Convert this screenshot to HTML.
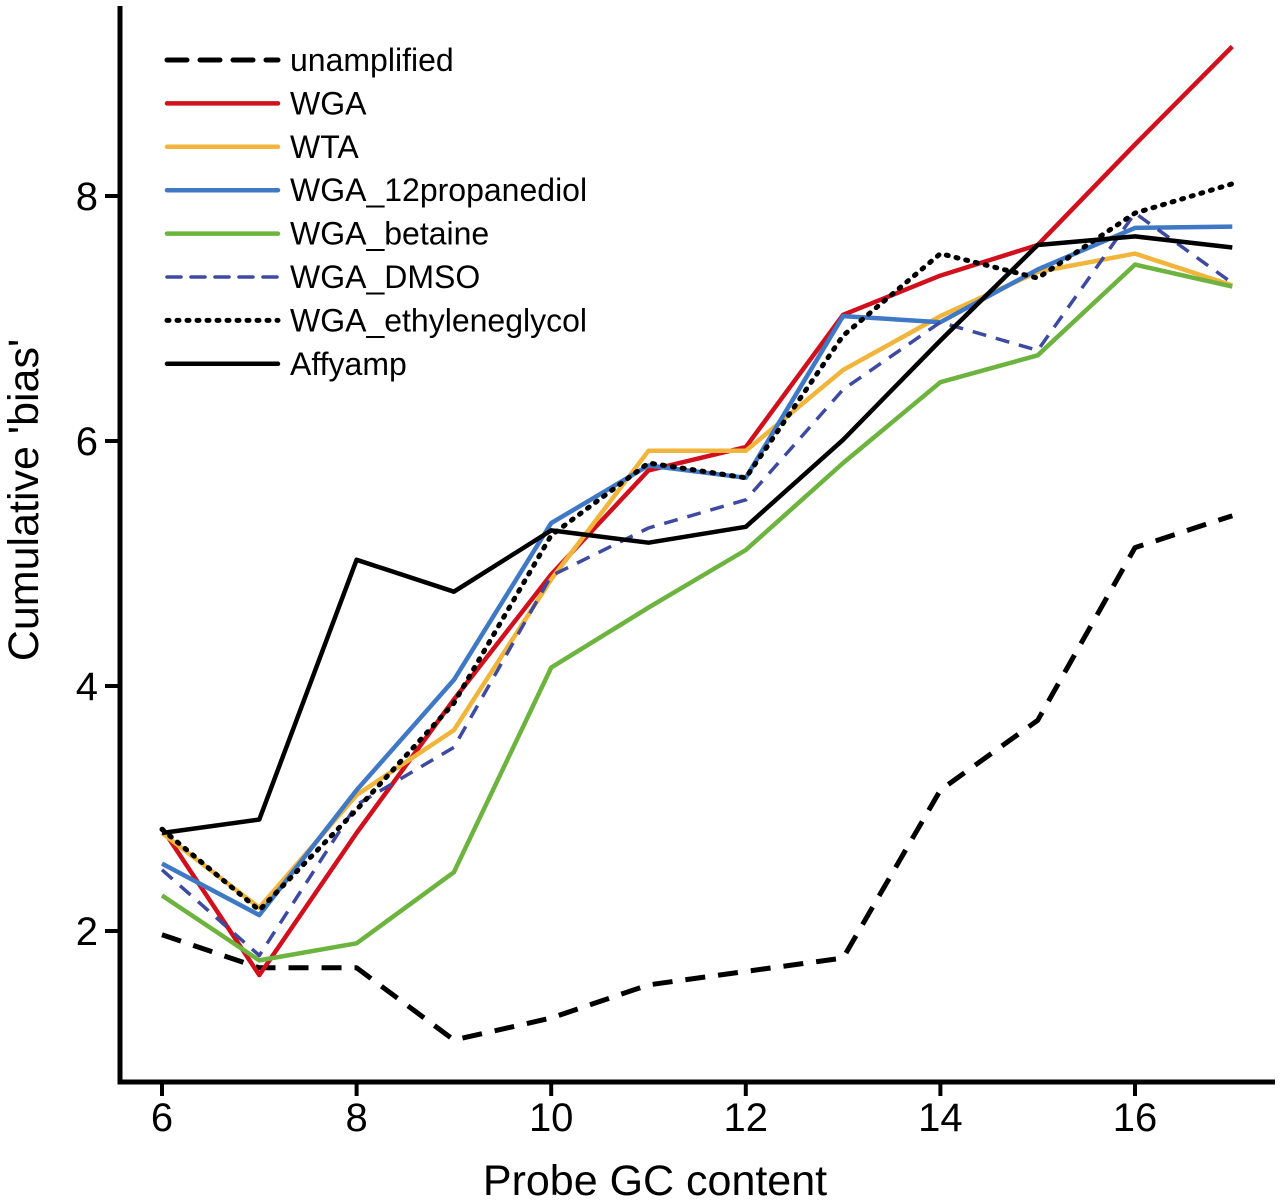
<!DOCTYPE html>
<html><head><meta charset="utf-8"><style>
html,body{margin:0;padding:0;background:#fff;}
svg{display:block;font-family:"Liberation Sans",Arial,sans-serif;}
</style></head><body>
<svg id="chart" width="1280" height="1201" viewBox="0 0 1280 1201"></svg>
<script>
const xCategories=[6,7,8,9,10,11,12,13,14,15,16,17];
const xTicks=[6,8,10,12,14,16];
const yTicks=[2,4,6,8];
const unamplified=[1.97,1.70,1.70,1.11,1.29,1.56,1.67,1.78,3.15,3.72,5.13,5.39];
const wga=[2.84,1.64,2.80,3.89,4.91,5.76,5.95,7.03,7.35,7.60,8.42,9.22];
const wta=[2.80,2.19,3.11,3.64,4.87,5.92,5.92,6.58,7.02,7.38,7.53,7.27];
const wga12prop=[2.55,2.13,3.15,4.05,5.33,5.80,5.70,7.02,6.97,7.40,7.74,7.75];
const wgaBetaine=[2.29,1.76,1.90,2.48,4.15,4.64,5.11,5.82,6.48,6.70,7.44,7.26];
const wgaDmso=[2.50,1.80,3.03,3.50,4.90,5.29,5.52,6.42,6.97,6.74,7.86,7.29];
const wgaEthylene=[2.83,2.17,2.99,3.86,5.23,5.82,5.70,6.86,7.53,7.33,7.86,8.10];
const affyamp=[2.80,2.91,5.03,4.77,5.27,5.17,5.30,6.01,6.82,7.60,7.67,7.58];

const seriesList=[
 {label:"unamplified",data:unamplified,color:"#000",dash:"20,13",w:5,name:"unamplified"},
 {label:"WGA",data:wga,color:"#d0101c",dash:"",w:4.5,name:"wga"},
 {label:"WTA",data:wta,color:"#f2b53c",dash:"",w:4.5,name:"wta"},
 {label:"WGA_12propanediol",data:wga12prop,color:"#3f78c4",dash:"",w:4.5,name:"wga-12propanediol"},
 {label:"WGA_betaine",data:wgaBetaine,color:"#6db33f",dash:"",w:4.5,name:"wga-betaine"},
 {label:"WGA_DMSO",data:wgaDmso,color:"#3e4aa0",dash:"14,10",w:3.5,name:"wga-dmso"},
 {label:"WGA_ethyleneglycol",data:wgaEthylene,color:"#000",dash:"2,8",w:5,name:"wga-ethyleneglycol",cap:"round"},
 {label:"Affyamp",data:affyamp,color:"#000",dash:"",w:4.5,name:"affyamp"}
];
const NS="http://www.w3.org/2000/svg";
const svg=document.getElementById('chart');
function X(v){return 162+(v-6)*97.3;}
function Y(v){return 931-(v-2)*122.5;}
function el(t,a,p){const e=document.createElementNS(NS,t);for(const k in a)e.setAttribute(k,a[k]);(p||svg).appendChild(e);return e;}

let ax=el('path',{d:"M120,6 V1082 H1275",fill:"none",stroke:"#000","stroke-width":5});



xTicks.forEach(t=>{
 const l=el('line',{x1:X(t),x2:X(t),y1:1082,y2:1096,stroke:"#000","stroke-width":4});
 
 
 const tx=el('text',{x:X(t),y:1131,"text-anchor":"middle","font-size":40});
 tx.textContent=t;
 
 
});
yTicks.forEach(t=>{
 const l=el('line',{x1:105,x2:120,y1:Y(t),y2:Y(t),stroke:"#000","stroke-width":4});
 
 
 const tx=el('text',{x:98,y:Y(t)+14,"text-anchor":"end","font-size":40});
 tx.textContent=t;
 
 
});

seriesList.forEach(s=>{
 const d=s.data.map((v,i)=>(i?'L':'M')+X(xCategories[i]).toFixed(1)+','+Y(v).toFixed(1)).join(' ');
 const p=el('path',{d:d,fill:"none",stroke:s.color,"stroke-width":s.w,"stroke-dasharray":s.dash,"stroke-linejoin":"round","stroke-linecap":s.cap||"butt"});
 
 
});

seriesList.forEach((s,i)=>{
 const y=60+i*43.4;
 const g=el('g',{});
 
 
 el('line',{x1:167,x2:278,y1:y,y2:y,stroke:s.color,"stroke-width":s.w,"stroke-dasharray":s.dash,"stroke-linecap":s.cap||"round"},g);
 const t=el('text',{x:290,y:y+11,"font-size":32},g);
 t.textContent=s.label;
});

const yl=el('text',{x:0,y:0,transform:"translate(38,500) rotate(-90)","text-anchor":"middle","font-size":43});
yl.textContent="Cumulative 'bias'";


const xl=el('text',{x:655,y:1195,"text-anchor":"middle","font-size":43});
xl.textContent="Probe GC content";


</script>
</body></html>
